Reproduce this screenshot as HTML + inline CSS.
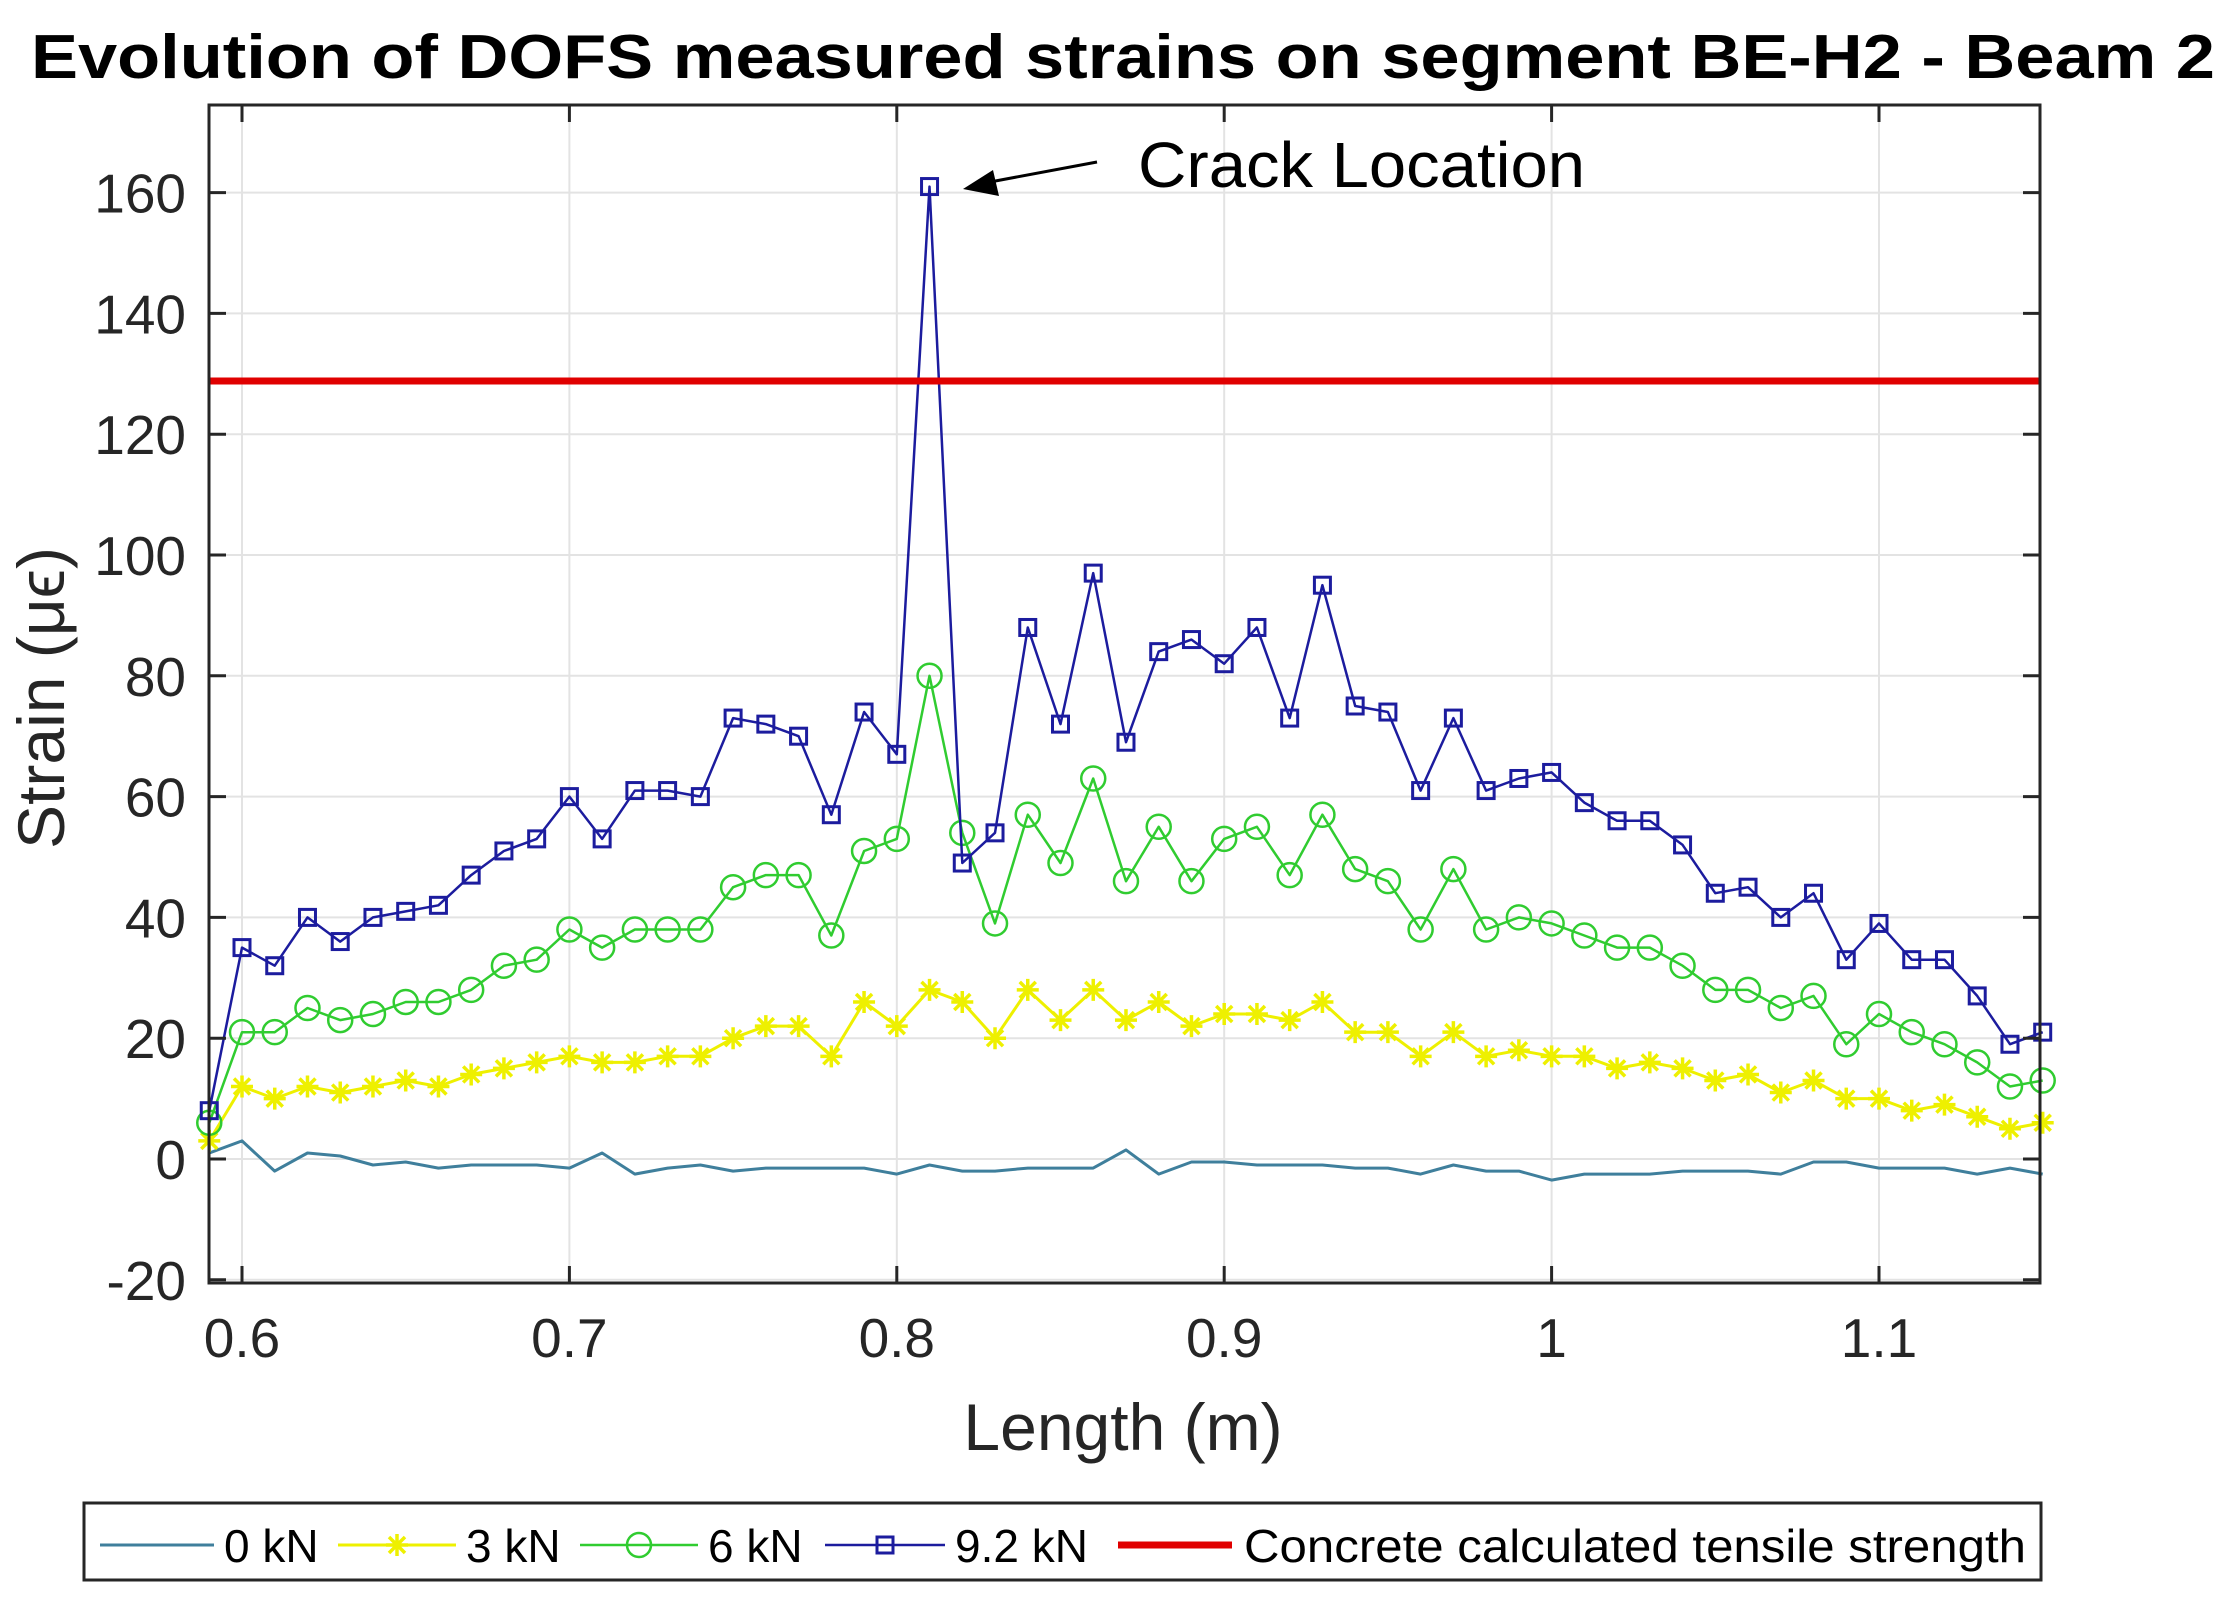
<!DOCTYPE html>
<html><head><meta charset="utf-8"><style>html,body{margin:0;padding:0;background:#fff}svg{display:block}</style></head>
<body>
<svg id="s" width="2234" height="1608" viewBox="0 0 2234 1608" xmlns="http://www.w3.org/2000/svg" font-family="Liberation Sans, Arial, sans-serif">
<rect width="2234" height="1608" fill="#fff"/>
<text x="1123" y="78" text-anchor="middle" font-size="62" font-weight="bold" textLength="2184" lengthAdjust="spacingAndGlyphs">Evolution of DOFS measured strains on segment BE-H2 - Beam 2</text>
<g id="grid"></g>
<g id="data"></g>
<rect x="209" y="105" width="1831" height="1178" fill="none" stroke="#262626" stroke-width="3"/>
<g id="ticks"></g>
<text x="1123" y="1450" text-anchor="middle" font-size="66" fill="#262626">Length (m)</text>
<text transform="translate(64,698) rotate(-90)" text-anchor="middle" font-size="66" fill="#262626">Strain (μϵ)</text>
<text x="1138" y="187" font-size="64" fill="#000" textLength="447" lengthAdjust="spacingAndGlyphs">Crack Location</text>
<line x1="1097" y1="162" x2="990" y2="182" stroke="#000" stroke-width="3"/>
<polygon points="963,189 993,170 999,196" fill="#000"/>
<rect x="84" y="1503" width="1957" height="77" fill="#fff" stroke="#262626" stroke-width="3"/>
<g id="leg"></g>
</svg>
<script>
const NS="http://www.w3.org/2000/svg";
function el(p,t,a,txt){const e=document.createElementNS(NS,t);for(const k in a)e.setAttribute(k,a[k]);if(txt!==undefined)e.textContent=txt;p.appendChild(e);return e;}
const X=v=>242+(v-0.6)*3274, Y=v=>1159-v*6.04;
const g=document.getElementById('grid'),tk=document.getElementById('ticks'),d=document.getElementById('data'),lg=document.getElementById('leg');
for(let i=0;i<6;i++){const v=0.6+i*0.1,x=X(v);el(g,'line',{x1:x,y1:105,x2:x,y2:1283,stroke:'#e3e3e3','stroke-width':2});
el(tk,'line',{x1:x,y1:1283,x2:x,y2:1266,stroke:'#262626','stroke-width':3});el(tk,'line',{x1:x,y1:105,x2:x,y2:122,stroke:'#262626','stroke-width':3});
el(tk,'text',{x:x,y:1357,'text-anchor':'middle','font-size':55,fill:'#262626'},i==4?'1':(Math.round(v*10)/10).toString());}
for(let v=-20;v<=160;v+=20){const y=Y(v);el(g,'line',{x1:209,y1:y,x2:2040,y2:y,stroke:'#e3e3e3','stroke-width':2});
el(tk,'line',{x1:209,y1:y,x2:226,y2:y,stroke:'#262626','stroke-width':3});el(tk,'line',{x1:2040,y1:y,x2:2023,y2:y,stroke:'#262626','stroke-width':3});
el(tk,'text',{x:186,y:y+20,'text-anchor':'end','font-size':55,fill:'#262626'},String(v));}
const xs=[];for(let i=0;i<=56;i++)xs.push(0.59+i*0.01);
const k0=[1,3,-2,1,0.5,-1,-0.5,-1.5,-1,-1,-1,-1.5,1,-2.5,-1.5,-1,-2,-1.5,-1.5,-1.5,-1.5,-2.5,-1,-2,-2,-1.5,-1.5,-1.5,1.5,-2.5,-0.5,-0.5,-1,-1,-1,-1.5,-1.5,-2.5,-1,-2,-2,-3.5,-2.5,-2.5,-2.5,-2,-2,-2,-2.5,-0.5,-0.5,-1.5,-1.5,-1.5,-2.5,-1.5,-2.5];
const k3=[3,12,10,12,11,12,13,12,14,15,16,17,16,16,17,17,20,22,22,17,26,22,28,26,20,28,23,28,23,26,22,24,24,23,26,21,21,17,21,17,18,17,17,15,16,15,13,14,11,13,10,10,8,9,7,5,6];
const k6=[6,21,21,25,23,24,26,26,28,32,33,38,35,38,38,38,45,47,47,37,51,53,80,54,39,57,49,63,46,55,46,53,55,47,57,48,46,38,48,38,40,39,37,35,35,32,28,28,25,27,19,24,21,19,16,12,13];
const k9=[8,35,32,40,36,40,41,42,47,51,53,60,53,61,61,60,73,72,70,57,74,67,161,49,54,88,72,97,69,84,86,82,88,73,95,75,74,61,73,61,63,64,59,56,56,52,44,45,40,44,33,39,33,33,27,19,21];
const C0='#3f7f9c',C3='#eef000',C6='#30cc30',C9='#1c1c9e';
function line(arr,c,w){el(d,'polyline',{points:arr.map((v,i)=>X(xs[i]).toFixed(1)+','+Y(v).toFixed(1)).join(' '),fill:'none',stroke:c,'stroke-width':w,'stroke-linejoin':'round'});}
function star(p,x,y,c){const r=11;el(p,'path',{d:`M${x-r},${y}H${x+r}M${x},${y-r}V${y+r}M${x-8},${y-8}L${x+8},${y+8}M${x-8},${y+8}L${x+8},${y-8}`,stroke:c,'stroke-width':3.5});}
function circ(p,x,y,c){el(p,'circle',{cx:x,cy:y,r:12,fill:'none',stroke:c,'stroke-width':2.5});}
function sq(p,x,y,c){el(p,'rect',{x:x-8,y:y-8,width:16,height:16,fill:'none',stroke:c,'stroke-width':3});}
line(k0,C0,3);
line(k3,C3,3);k3.forEach((v,i)=>star(d,X(xs[i]),Y(v),C3));
line(k6,C6,2.5);k6.forEach((v,i)=>circ(d,X(xs[i]),Y(v),C6));
line(k9,C9,2.5);k9.forEach((v,i)=>sq(d,X(xs[i]),Y(v),C9));
el(d,'line',{x1:209,y1:381,x2:2040,y2:381,stroke:'#e00000','stroke-width':7});
const ly=1545,ty=1562;
el(lg,'line',{x1:100,y1:ly,x2:214,y2:ly,stroke:C0,'stroke-width':3});
el(lg,'text',{x:224,y:ty,'font-size':46},'0 kN');
el(lg,'line',{x1:338,y1:ly,x2:456,y2:ly,stroke:C3,'stroke-width':3});star(lg,397,ly,C3);
el(lg,'text',{x:466,y:ty,'font-size':46},'3 kN');
el(lg,'line',{x1:580,y1:ly,x2:698,y2:ly,stroke:C6,'stroke-width':2.5});circ(lg,639,ly,C6);
el(lg,'text',{x:708,y:ty,'font-size':46},'6 kN');
el(lg,'line',{x1:825,y1:ly,x2:945,y2:ly,stroke:C9,'stroke-width':2.5});sq(lg,885,ly,C9);
el(lg,'text',{x:955,y:ty,'font-size':46},'9.2 kN');
el(lg,'line',{x1:1118,y1:ly,x2:1232,y2:ly,stroke:'#e00000','stroke-width':7});
el(lg,'text',{x:1244,y:ty,'font-size':46,textLength:782,lengthAdjust:'spacingAndGlyphs'},'Concrete calculated tensile strength');
</script>
</body></html>
